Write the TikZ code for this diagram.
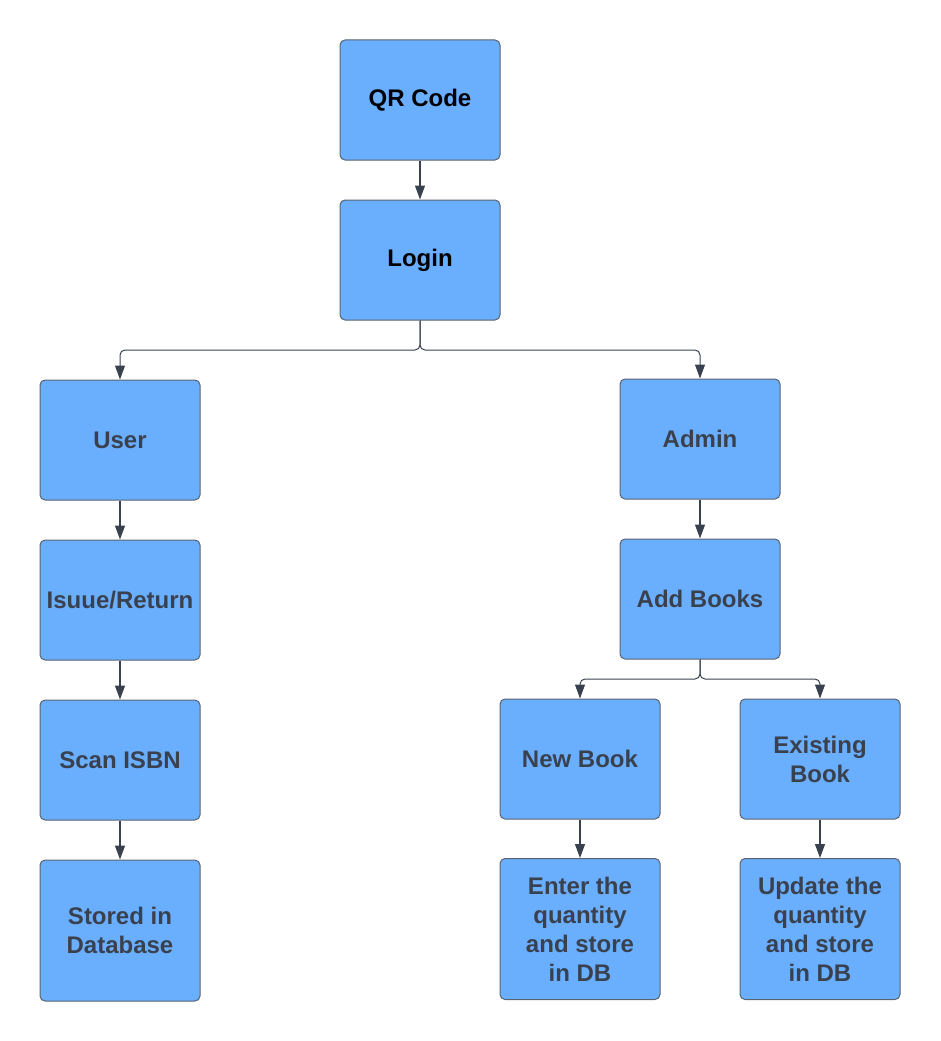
\documentclass[tikz,border=0pt]{standalone}
\usepackage{fontspec}
\setmainfont{Liberation Sans}
\usetikzlibrary{arrows.meta}
\definecolor{boxfill}{HTML}{6AAEFE}
\definecolor{boxline}{HTML}{5A6270}
\definecolor{txtgray}{HTML}{3A414E}
\definecolor{lineclr}{HTML}{3A414E}
\tikzset{
  x=1pt, y=-1pt,
  stepbox/.style={draw=boxline, fill=boxfill, line width=1pt, rounded corners=5pt,
    minimum width=160pt, minimum height=120pt, inner sep=0pt, align=center,
    text=txtgray, font=\fontsize{24}{29}\selectfont\bfseries},
  tallbox/.style={stepbox, minimum height=141pt},
  blacktext/.style={text=black},
  conn/.style={draw=lineclr, line width=1.2pt, -{Triangle[width=10pt,length=14pt]}},
  branch/.style={draw=lineclr, line width=1pt, rounded corners=5pt, -{Triangle[width=10pt,length=14pt]}}
}
\begin{document}
\begin{tikzpicture}
\useasboundingbox (0,0) rectangle (940,1041);
\node[stepbox, blacktext] (qr) at (420,100) {QR Code};
\node[stepbox, blacktext] (login) at (420,260) {Login};
\node[stepbox] (user) at (120,440) {User};
\node[stepbox] (admin) at (700,439) {Admin};
\node[stepbox] (issue) at (120,600) {Isuue/Return};
\node[stepbox] (add) at (700,599) {Add Books};
\node[stepbox] (scan) at (120,760) {Scan ISBN};
\node[stepbox] (new) at (580,759) {New Book};
\node[stepbox] (exist) at (820,759) {Existing\\Book};
\node[tallbox] (stored) at (120,930.5) {Stored in\\Database};
\node[tallbox] (enter) at (580,929) {Enter the\\quantity\\and store\\in DB};
\node[tallbox] (update) at (820,929) {Update the\\quantity\\and store\\in DB};

\coordinate (j1) at (420,350);
\coordinate (j2) at (700,679);

\draw[conn] (qr) -- (login);
\draw[branch] (login.south) -- (j1) -| (user.north);
\draw[branch] (login.south) -- (j1) -| (admin.north);
\draw[conn] (user) -- (issue);
\draw[conn] (issue) -- (scan);
\draw[conn] (scan) -- (stored);
\draw[conn] (admin) -- (add);
\draw[branch] (add.south) -- (j2) -| (new.north);
\draw[branch] (add.south) -- (j2) -| (exist.north);
\draw[conn] (new) -- (enter);
\draw[conn] (exist) -- (update);
\end{tikzpicture}
\end{document}
